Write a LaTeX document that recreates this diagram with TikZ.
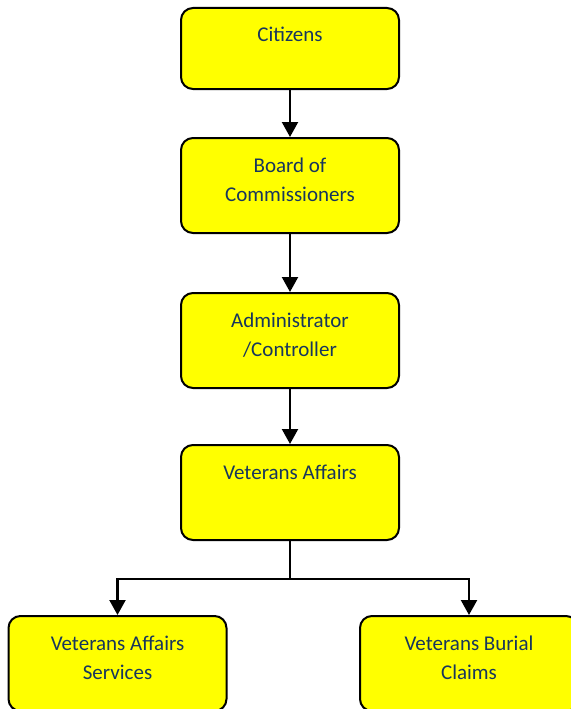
\documentclass[tikz,border=0pt]{standalone}
\usepackage{fontspec}
\setmainfont{Carlito}
\usepackage{tikz}
\usetikzlibrary{positioning,arrows.meta}

\definecolor{boxtext}{RGB}{23,54,93}
\definecolor{boxfill}{RGB}{255,255,0}

\tikzset{
  orgbox/.style={draw, line width=2pt, fill=boxfill, rounded corners=12pt,
    minimum width=218pt, inner sep=0pt, align=center, text=boxtext,
    font=\fontsize{21}{29}\selectfont},
  onebox/.style={orgbox, text height=34pt, text depth=47pt},
  tallbox/.style={orgbox, text height=34pt, text depth=61pt},
  twobox/.style={orgbox, text height=63pt, text depth=32pt},
  link/.style={line width=2.2pt, -{Triangle[width=16pt,length=15pt]}}
}

\begin{document}
\begin{tikzpicture}
      \useasboundingbox (0,0) rectangle (570pt,-709pt);

      \node (0) [onebox,anchor=north] at (290pt,-7pt) {Citizens};
      \node (1) [twobox,below=47pt of 0] {Board of\\Commissioners};
      \node (2) [twobox,below=58pt of 1] {Administrator\\/Controller};
      \node (3) [tallbox,below=55pt of 2] {Veterans Affairs};
      \node (4) [twobox,below=74pt of 3,xshift=-172.5pt] {Veterans Affairs\\Services};
      \node (5) [twobox,below=74pt of 3,xshift=179pt] {Veterans Burial\\Claims};

      \coordinate (split) at ([yshift=-38pt]3.south);

      \draw[link] (0) -- (1);
      \draw[link] (1) -- (2);
      \draw[link] (2) -- (3);

      \draw[line width=2.2pt] (3) -- (split);
      \draw[link] (split) -| (4);
      \draw[link] (split) -| (5);

    \end{tikzpicture}
\end{document}
